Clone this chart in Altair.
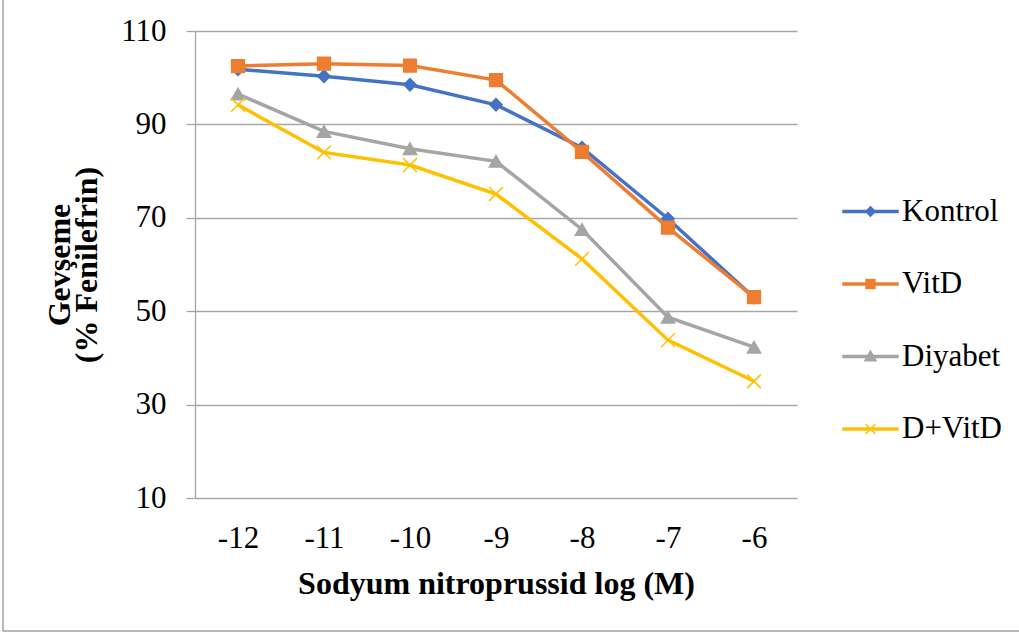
import altair as alt
import pandas as pd

# ---- data ----
x_vals = [-12, -11, -10, -9, -8, -7, -6]
series_names = ["Kontrol", "VitD", "Diyabet", "D+VitD"]
kontrol = [101.8, 100.3, 98.5, 94.2, 85.0, 69.8, 52.9]
vitd = [102.5, 103.0, 102.6, 99.5, 84.1, 67.9, 53.0]
diyabet = [96.5, 88.5, 84.8, 82.1, 67.5, 48.7, 42.3]
dvitd = [94.2, 84.0, 81.3, 75.1, 61.2, 43.8, 35.0]
y_ticks = [10, 30, 50, 70, 90, 110]

colors = ["#4472C4", "#ED7D31", "#A5A5A5", "#FFC000"]
plot_shapes = ["diamond", "square", "triangle-up", "M-1,-1L1,1M-1,1L1,-1"]
plot_sizes = [150, 190, 230, 150]
legend_shapes = [
    "M-1,-0.035L1,-0.035L1,0.035L-1,0.035ZM0,-0.17L0.17,0L0,0.17L-0.17,0Z",
    "M-1,-0.035L1,-0.035L1,0.035L-1,0.035ZM-0.16,-0.16L0.16,-0.16L0.16,0.16L-0.16,0.16Z",
    "M-1,-0.035L1,-0.035L1,0.035L-1,0.035ZM0,-0.2L0.2,0.15L-0.2,0.15Z",
    "M-1,-0.035L1,-0.035L1,0.035L-1,0.035ZM-0.18,-0.18L0.18,0.18M-0.18,0.18L0.18,-0.18",
]

rows = []
for name, vals in zip(series_names, [kontrol, vitd, diyabet, dvitd]):
    for xv, v in zip(x_vals, vals):
        rows.append({"x": xv, "value": v, "series": name})
df = pd.DataFrame(rows)

FONT = "Liberation Serif"
GRID = "#A6A6A6"

x_enc = alt.X(
    "x:O",
    sort=x_vals,
    scale=alt.Scale(type="point", padding=0.5),
    axis=alt.Axis(
        title="Sodyum nitroprussid log (M)",
        labelAngle=0,
        ticks=False,
        tickSize=0,
        domain=False,
        labelBaseline="alphabetic",
        labelPadding=49,
        labelFontSize=31,
        labelFont=FONT,
        labelColor="#000000",
        titleFont=FONT,
        titleFontSize=32,
        titleFontWeight="bold",
        titleColor="#000000",
        titleBaseline="alphabetic",
        titleY=95,
        titleX=301,
        grid=False,
    ),
)
y_enc = alt.Y(
    "value:Q",
    scale=alt.Scale(domain=[10, 110], nice=False, zero=False),
    axis=alt.Axis(
        values=y_ticks,
        title=["Gevşeme", "(% Fenilefrin)"],
        titleAngle=270,
        titleFont=FONT,
        titleFontSize=32,
        titleFontWeight="bold",
        titleColor="#000000",
        titleBaseline="alphabetic",
        titleLineHeight=27,
        titleX=-126,
        titleY=233.5,
        titleAlign="center",
        labelFont=FONT,
        labelFontSize=31,
        labelColor="#000000",
        labelBaseline="middle",
        labelPadding=20,
        tickSize=9,
        tickColor=GRID,
        tickWidth=1.3,
        domainColor=GRID,
        domainWidth=1.3,
        grid=True,
        gridColor=GRID,
        gridWidth=1.3,
    ),
)

color_scale = alt.Scale(domain=series_names, range=colors)

lines = alt.Chart(df).mark_line(strokeWidth=3.5).encode(
    x=x_enc,
    y=y_enc,
    color=alt.Color("series:N", scale=color_scale, legend=None),
    detail="series:N",
)

points = alt.Chart(df).mark_point(filled=False, strokeWidth=1.5, opacity=1).encode(
    x=x_enc,
    y=y_enc,
    fill=alt.Fill("series:N", scale=color_scale, legend=None),
    stroke=alt.Stroke("series:N", scale=color_scale, legend=None),
    shape=alt.Shape("series:N", scale=alt.Scale(domain=series_names, range=plot_shapes), legend=None),
    size=alt.Size("series:N", scale=alt.Scale(domain=series_names, range=plot_sizes), legend=None),
)

leg = alt.Legend(
    title=None,
    orient="none",
    legendX=647,
    legendY=152,
    padding=0,
    labelFont=FONT,
    labelFontSize=31,
    labelFontWeight="normal",
    labelColor="#000000",
    labelOffset=3,
    symbolSize=3025,
    symbolStrokeWidth=1.5,
    rowPadding=28.5,
)

legend_layer = alt.Chart(df).mark_point(filled=False, strokeWidth=1.5, opacity=1).encode(
    x=x_enc,
    y=y_enc,
    fill=alt.Fill("series:N", scale=color_scale, legend=leg),
    stroke=alt.Stroke("series:N", scale=color_scale, legend=leg),
    shape=alt.Shape("series:N", scale=alt.Scale(domain=series_names, range=legend_shapes), legend=leg),
).transform_filter("false")

one = pd.DataFrame({"a": [0]})
border_left = alt.Chart(one).mark_rule(color="#A0A0A0", strokeWidth=1.5).encode(
    x=alt.value(-192), y=alt.value(-31), y2=alt.value(600)
)
border_bottom = alt.Chart(one).mark_rule(color="#A0A0A0", strokeWidth=1.5).encode(
    x=alt.value(-192), x2=alt.value(824), y=alt.value(600)
)

chart = (
    alt.layer(border_left, border_bottom, lines, points, legend_layer)
    .resolve_scale(shape="independent", fill="independent", stroke="independent")
    .properties(
        width=602,
        height=467,
        autosize=alt.AutoSizeParams(type="none"),
        padding={"left": 195, "top": 31, "right": 222, "bottom": 137},
        background="#FFFFFF",
    )
    .configure(
        font=FONT,
        style={
            "guide-label": {"font": FONT, "fill": "#000000"},
            "guide-title": {"font": FONT, "fill": "#000000"},
        },
    )
    .configure_view(stroke="transparent")
    .configure_legend(labelFont=FONT, labelFontSize=31, labelColor="#000000", rowPadding=28.5)
)

chart.save("out.html", embed_options={"renderer": "svg", "actions": False})
